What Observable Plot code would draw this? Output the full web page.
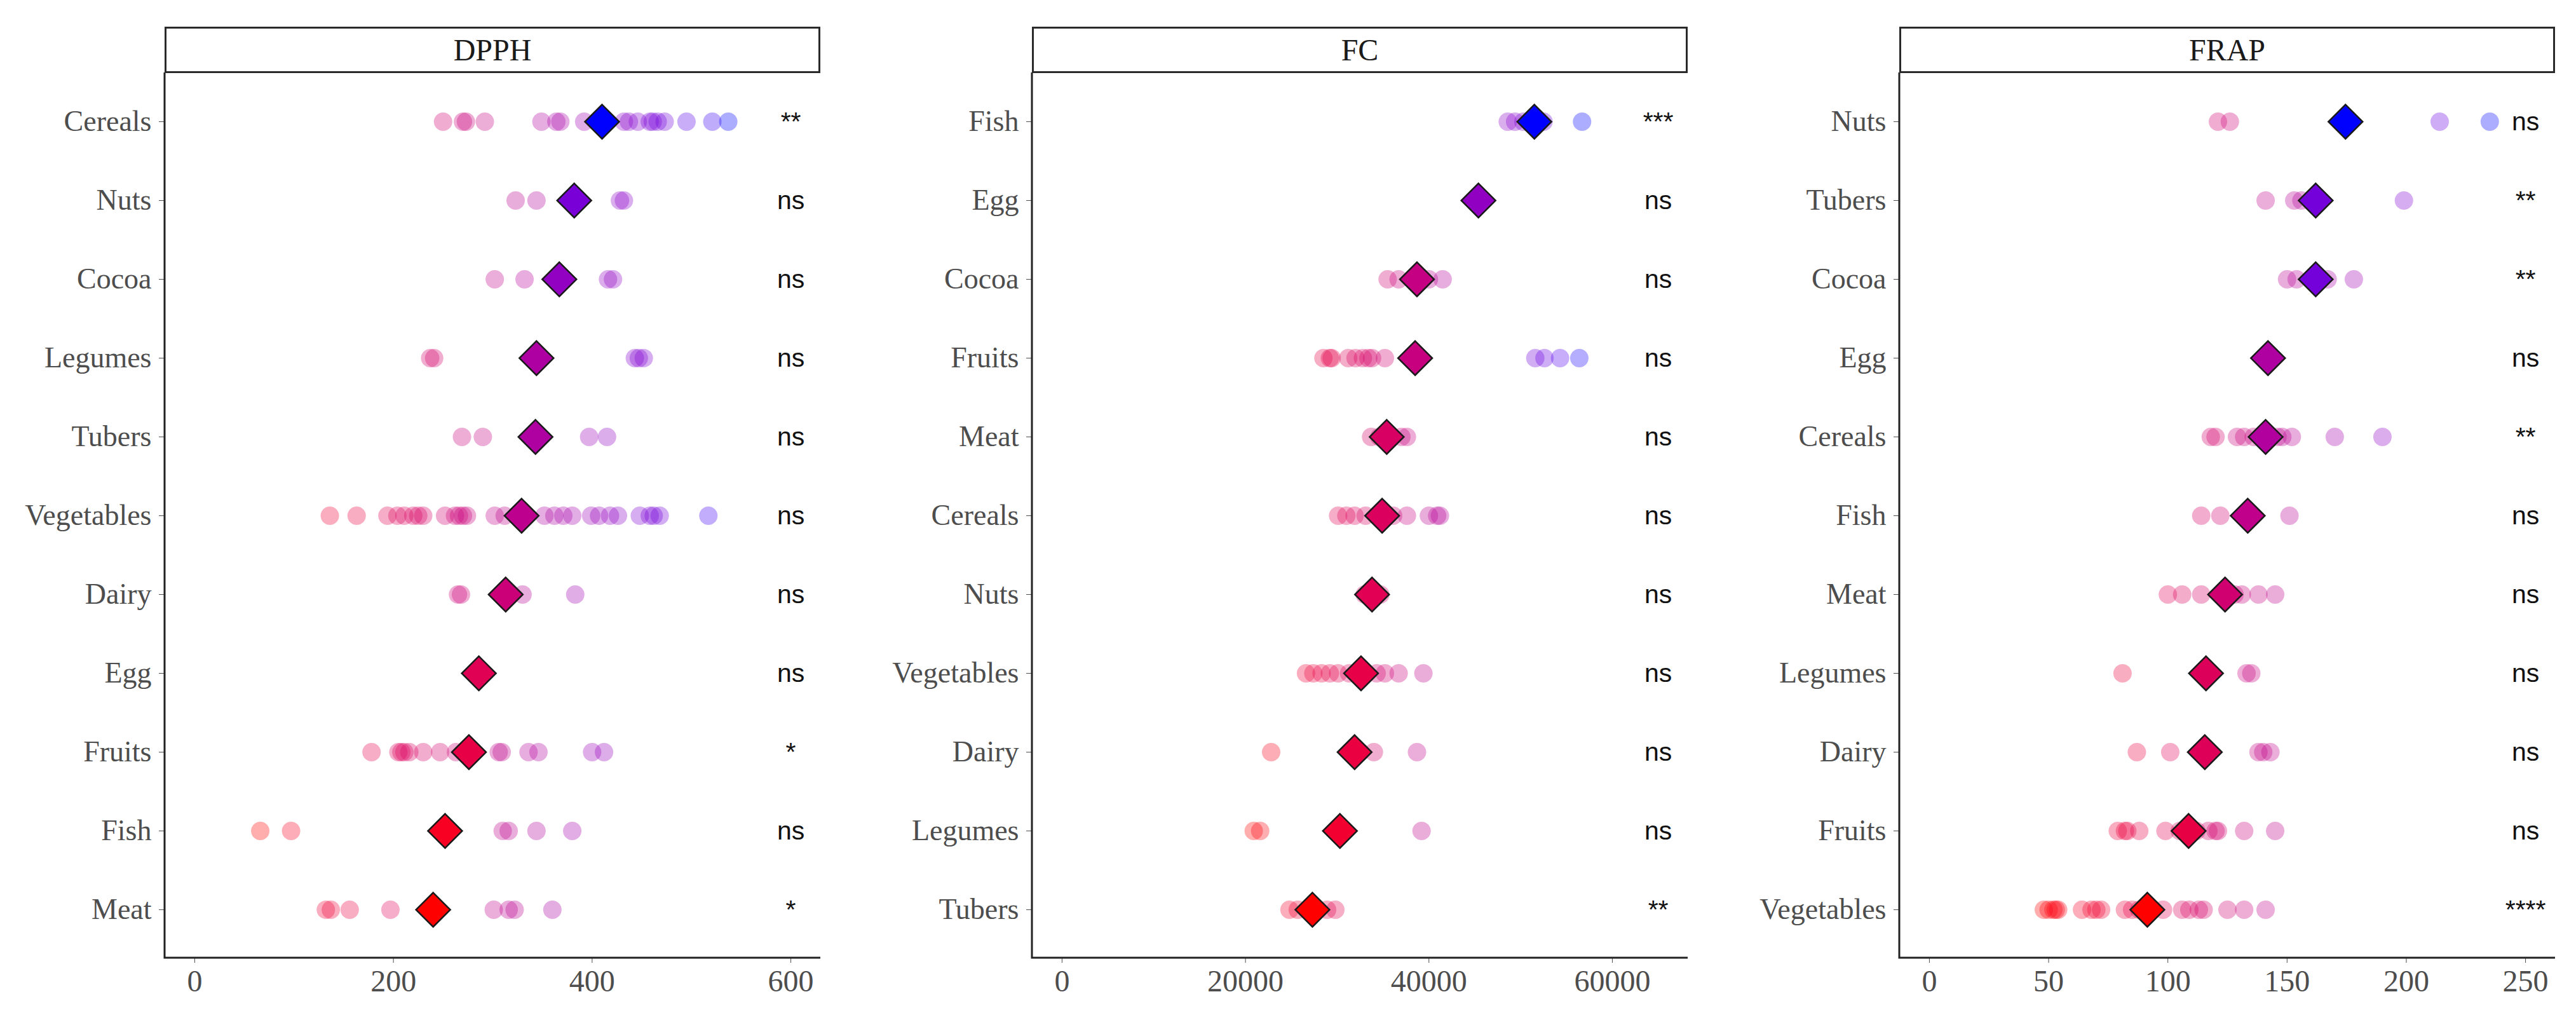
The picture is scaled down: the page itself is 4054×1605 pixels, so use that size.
<!DOCTYPE html>
<html>
<head>
<meta charset="utf-8">
<script src="https://cdn.jsdelivr.net/npm/d3@7"></script>
<script src="https://cdn.jsdelivr.net/npm/@observablehq/plot@0.6"></script>
<style>
  html, body { margin: 0; padding: 0; background: #fff; }
  #root { position: relative; width: 4054px; height: 1605px; overflow: hidden; background: #fff; }
  .strip { position: absolute; box-sizing: border-box; border: 3px solid #2a2a2a; background: #fff;
           font-family: "Liberation Serif", "DejaVu Serif", serif; font-size: 48px; color: #1a1a1a;
           display: flex; align-items: center; justify-content: center; }
  .panel { position: absolute; }
</style>
</head>
<body>
<div id="root"></div>
<script>
// ---------------- DATA ----------------
const panelNames = ["DPPH", "FC", "FRAP"];

// DPPH
const dpphCategories = ["Cereals", "Nuts", "Cocoa", "Legumes", "Tubers", "Vegetables", "Dairy", "Egg", "Fruits", "Fish", "Meat"];
const dpphValues = [
  [250, 270, 273, 292, 349, 364, 368, 392, 432, 437, 446, 458, 461, 466, 473, 495, 521, 537],
  [323, 344, 428, 432],
  [302, 332, 416, 421],
  [237, 241, 443, 447, 452],
  [269, 290, 397, 415],
  [136, 163, 194, 204, 211, 220, 225, 230, 252, 262, 266, 270, 274, 302, 312, 324, 352, 362, 371, 380, 399, 407, 418, 426, 448, 458, 462, 468, 517],
  [265, 268, 330, 383],
  [283, 289],
  [178, 205, 208, 211, 216, 230, 247, 263, 276, 306, 309, 336, 346, 400, 412],
  [66, 97, 310, 316, 344, 380],
  [132, 137, 156, 197, 301, 316, 322, 360]
];
const dpphMeans = [410, 382, 367, 344, 343, 329, 313, 286, 276, 252, 240];
const dpphSig = ["**", "ns", "ns", "ns", "ns", "ns", "ns", "ns", "*", "ns", "*"];
const dpphLimits = [0, 600];
const dpphTicks = [0, 200, 400, 600];

// FC
const fcCategories = ["Fish", "Egg", "Cocoa", "Fruits", "Meat", "Cereals", "Nuts", "Vegetables", "Dairy", "Legumes", "Tubers"];
const fcValues = [
  [48600, 49400, 50300, 52500, 56700],
  [45400],
  [35500, 36700, 38200, 40000, 41500],
  [28500, 29200, 29400, 31200, 32000, 32800, 33400, 33800, 35200, 51600, 52600, 54300, 56400],
  [33700, 34600, 35400, 37000, 37600],
  [30100, 31000, 31900, 33100, 34900, 36100, 37600, 40000, 40900, 41200],
  [33000, 33900, 34700],
  [26600, 27400, 28300, 29200, 30100, 31300, 32800, 34300, 35200, 36700, 39400],
  [22800, 32500, 34000, 38700],
  [20900, 21600, 39200],
  [24800, 25700, 27300, 28900, 29800]
];
const fcMeans = [51500, 45400, 38700, 38500, 35400, 34900, 33800, 32600, 31900, 30300, 27300];
const fcSig = ["***", "ns", "ns", "ns", "ns", "ns", "ns", "ns", "ns", "ns", "**"];
const fcLimits = [0, 65000];
const fcTicks = [0, 20000, 40000, 60000];

// FRAP
const frapCategories = ["Nuts", "Tubers", "Cocoa", "Egg", "Cereals", "Fish", "Meat", "Legumes", "Dairy", "Fruits", "Vegetables"];
const frapValues = [
  [121, 126, 214, 235],
  [141, 153, 156, 199],
  [150, 154, 162, 167, 178],
  [142],
  [118, 120, 129, 132, 136, 141, 146, 148, 152, 170, 190],
  [114, 122, 133, 151],
  [100, 106, 114, 128, 131, 138, 145],
  [81, 133, 135],
  [87, 101, 138, 140, 143],
  [79, 82, 83, 88, 99, 105, 112, 117, 120, 121, 132, 145],
  [48, 50, 52, 53, 54, 64, 68, 70, 72, 82, 85, 88, 98, 106, 109, 113, 115, 125, 132, 141]
];
const frapMeans = [174.5, 162, 162, 142, 141, 133.5, 124, 116, 115.5, 108.7, 91.4];
const frapSig = ["ns", "**", "**", "ns", "**", "ns", "ns", "ns", "ns", "ns", "****"];
const frapLimits = [0, 250];
const frapTicks = [0, 50, 100, 150, 200, 250];

// ---------------- LAYOUT ----------------
const plotLefts = [259, 1624, 2989];
const plotWidth = 1032;
const stripTop = 42;
const plotTop = 114;
const plotHeight = 1393;
const mLeft = 245, mRight = 15, mBottom = 98;

const panelDefs = [
  {cats: dpphCategories, values: dpphValues, means: dpphMeans, sig: dpphSig, limits: dpphLimits, ticks: dpphTicks},
  {cats: fcCategories, values: fcValues, means: fcMeans, sig: fcSig, limits: fcLimits, ticks: fcTicks},
  {cats: frapCategories, values: frapValues, means: frapMeans, sig: frapSig, limits: frapLimits, ticks: frapTicks}
];

const root = document.getElementById("root");
const redBlue = d3.interpolateLab("#FF0000", "#0000FF");

panelDefs.forEach((p, i) => {
  const points = p.cats.flatMap((c, j) => p.values[j].map(v => ({cat: c, v})));
  const meanRows = p.cats.map((c, j) => ({cat: c, m: p.means[j]}));
  const sigRows = p.cats.map((c, j) => ({cat: c, s: p.sig[j], x: p.limits[1]}));

  const [lo, hi] = p.limits;
  const pad = (hi - lo) * 0.05;
  const xDomain = [lo - pad, hi + pad];

  const dotColor = d3.scaleSequential(d3.extent(points, d => d.v), redBlue);
  const meanColor = d3.scaleSequential(d3.extent(meanRows, d => d.m), redBlue);

  const axisLines = (index, scales, values, dims) => {
    const {marginLeft, marginTop, marginRight, marginBottom, width, height} = dims;
    return d3.create("svg:path")
      .attr("d", `M${marginLeft},${marginTop}V${height - marginBottom}H${width - marginRight}`)
      .attr("fill", "none").attr("stroke", "#222").attr("stroke-width", 3)
      .node();
  };

  const chart = Plot.plot({
    width: mLeft + plotWidth + mRight,
    height: plotHeight + mBottom,
    marginLeft: mLeft, marginRight: mRight, marginTop: 0, marginBottom: mBottom,
    style: {fontFamily: "'Liberation Serif', 'DejaVu Serif', serif", fontSize: "46px", background: "transparent", overflow: "visible"},
    x: {domain: xDomain, label: null},
    y: {type: "point", domain: p.cats, padding: 0.6, label: null},
    color: {type: "identity"},
    marks: [
      Plot.dot(points, {x: "v", y: "cat", r: 14.5, fill: d => dotColor(d.v), fillOpacity: 0.32, stroke: "none"}),
      Plot.dot(meanRows, {x: "m", y: "cat", symbol: "diamond2", r: 24.3, fill: d => meanColor(d.m), stroke: "#1a1a1a", strokeWidth: 2.5}),
      Plot.text(sigRows, {x: "x", y: "cat", text: "s", fontFamily: "'Liberation Sans', Arial, sans-serif", fontSize: 41, fill: "#111", textAnchor: "middle"}),
      Plot.axisY({tickSize: 9, tickPadding: 12, fontSize: 46, color: "#4d4d4d", label: null}),
      Plot.axisX({ticks: p.ticks, tickSize: 8, tickPadding: 10, fontSize: 48, color: "#4d4d4d", label: null, tickFormat: d => String(d)}),
      axisLines
    ]
  });

  const holder = document.createElement("div");
  holder.className = "panel";
  holder.style.left = (plotLefts[i] - mLeft) + "px";
  holder.style.top = plotTop + "px";
  holder.appendChild(chart);
  root.appendChild(holder);

  const strip = document.createElement("div");
  strip.className = "strip";
  strip.style.left = plotLefts[i] + "px";
  strip.style.top = stripTop + "px";
  strip.style.width = plotWidth + "px";
  strip.style.height = (plotTop - stripTop + 1) + "px";
  strip.textContent = panelNames[i];
  root.appendChild(strip);
});
</script>
</body>
</html>
